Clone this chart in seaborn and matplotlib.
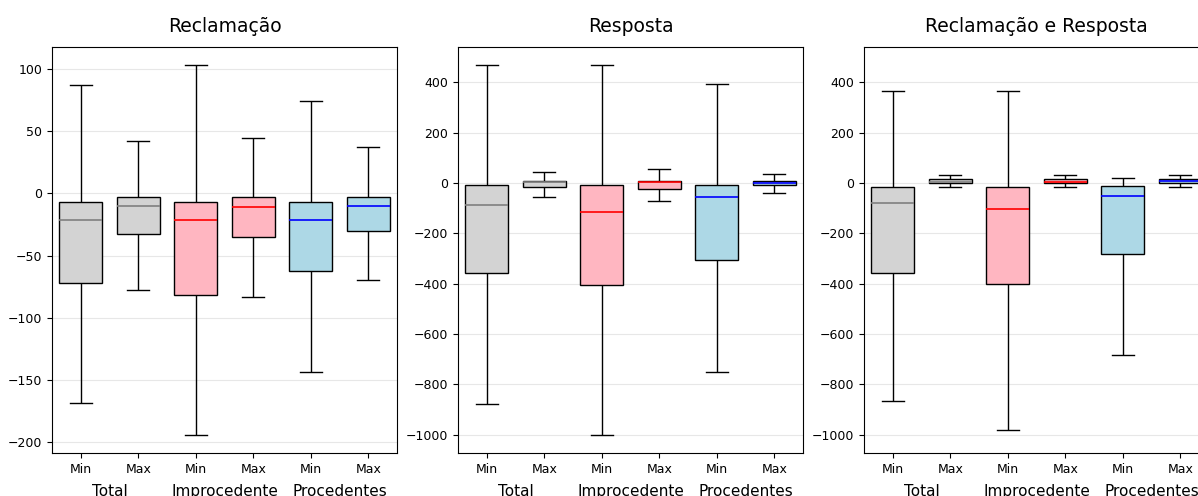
import matplotlib
matplotlib.use("Agg")
import matplotlib.pyplot as plt
import matplotlib.transforms as mtransforms
import seaborn as sns
import pandas as pd
import numpy as np

# five-number summaries per box: [low whisker, Q1, median, Q3, high whisker]
# order: Total Min, Total Max, Improcedente Min, Improcedente Max, Procedentes Min, Procedentes Max
reclamacao_stats = [
    [-169, -72, -21, -7, 87],
    [-78, -33, -10, -3, 42],
    [-194, -82, -21, -7, 103],
    [-83, -35, -11, -3, 45],
    [-144, -62, -21, -7, 74],
    [-70, -30, -10, -3, 37],
]
resposta_stats = [
    [-880, -358, -87, -10, 467],
    [-57, -17, 2, 8, 45],
    [-1000, -405, -117, -10, 467],
    [-73, -24, 2, 8, 56],
    [-751, -305, -54, -8, 395],
    [-38, -10, 1, 8, 37],
]
ambos_stats = [
    [-866, -357, -80, -16, 365],
    [-18, 0, 5, 14, 32],
    [-982, -402, -104, -16, 365],
    [-18, 0, 5, 14, 32],
    [-683, -281, -50, -13, 20],
    [-18, 0, 6, 14, 32],
]

panel_titles = ["Reclamação", "Resposta", "Reclamação e Resposta"]
tick_labels = ["Min", "Max", "Min", "Max", "Min", "Max"]
group_labels = ["Total", "Improcedente", "Procedentes"]

box_colors = ["lightgray", "lightgray", "lightpink", "lightpink", "lightblue", "lightblue"]
median_colors = ["gray", "gray", "red", "red", "blue", "blue"]


def draw_panel(ax, stats, title):
    rows = []
    for i, five in enumerate(stats):
        for v in five:
            rows.append({"box": str(i), "value": v})
    df = pd.DataFrame(rows)

    sns.boxplot(data=df, x="box", y="value", hue="box", palette=box_colors,
                saturation=1, width=0.75, whis=(0, 100), showfliers=False,
                linecolor="black", linewidth=1, legend=False, ax=ax)

    # recolour the median lines per box
    for line in ax.lines:
        x = np.asarray(line.get_xdata(), float)
        y = np.asarray(line.get_ydata(), float)
        if len(x) == 2 and y[0] == y[1] and abs(x[1] - x[0]) > 0.5:
            idx = int(round(x.mean()))
            line.set_color(median_colors[idx])
            line.set_linewidth(1.2)

    ax.set_title(title, fontsize=13.5, pad=11)
    ax.set_xticks(range(6))
    ax.set_xticklabels(tick_labels, fontsize=9)
    ax.tick_params(axis="y", labelsize=9)
    ax.set_xlabel("")
    ax.set_ylabel("")
    ax.set_xlim(-0.5, 5.5)
    ax.yaxis.grid(True, alpha=0.3)
    ax.set_axisbelow(True)

    trans = mtransforms.blended_transform_factory(ax.transData, ax.transAxes)
    for k, g in enumerate(group_labels):
        ax.text(2 * k + 0.5, -0.076, g, transform=trans, ha="center", va="top",
                fontsize=11)


fig = plt.figure(figsize=(11.98, 4.96), dpi=100)
lefts = [52 / 1198, 458 / 1198, 864 / 1198]
axes = [fig.add_axes([l, 43 / 496, 345 / 1198, 406 / 496]) for l in lefts]

draw_panel(axes[0], reclamacao_stats, panel_titles[0])
draw_panel(axes[1], resposta_stats, panel_titles[1])
draw_panel(axes[2], ambos_stats, panel_titles[2])
axes[2].set_ylim(axes[1].get_ylim())

fig.savefig("out.png", dpi=100)
